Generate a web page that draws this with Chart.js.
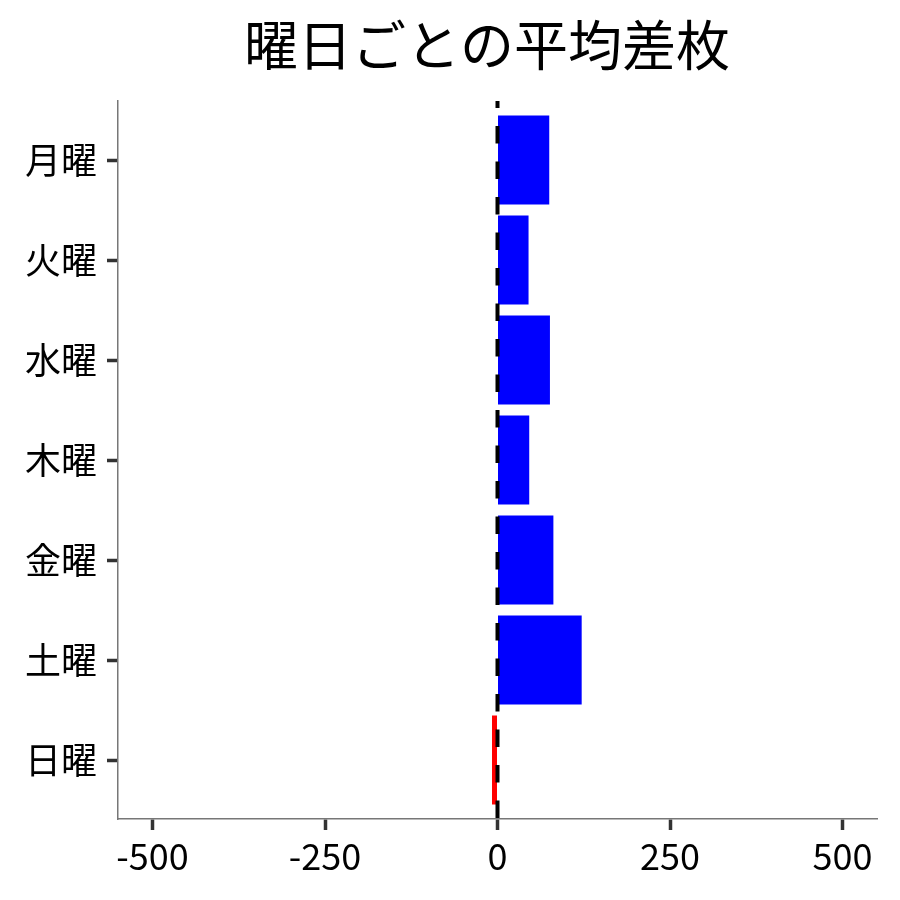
<!DOCTYPE html>
<html>
<head>
<meta charset="utf-8">
<script src="https://cdn.jsdelivr.net/npm/chart.js@4/dist/chart.umd.min.js"></script>
<style>
  html, body { margin: 0; padding: 0; background: #fff; }
  #wrap { width: 900px; height: 900px; }
</style>
</head>
<body>
<div id="wrap"><canvas id="diff-chart" width="900" height="900"></canvas></div>
<script>
var days = ['月曜', '火曜', '水曜', '木曜', '金曜', '土曜', '日曜'];
var avgDiff = [75, 45, 76, 46, 81, 122, -8];
var xTicks = [-500, -250, 0, 250, 500];
var xMin = -550;
var xMax = 550;
var refValue = 0;

var FONT = '"Noto Sans CJK JP", "Noto Sans", sans-serif';

// dashed reference line at x = 0
var zeroLine = {
    id: 'zeroLine',
    afterDatasetsDraw: function (chart) {
        var ctx = chart.ctx;
        var area = chart.chartArea;
        var x = chart.scales.x.getPixelForValue(refValue);
        ctx.save();
        ctx.strokeStyle = '#000';
        ctx.lineWidth = 4;
        ctx.setLineDash([17.5, 18]);
        ctx.lineDashOffset = 10.5;
        ctx.beginPath();
        ctx.moveTo(x, area.top);
        ctx.lineTo(x, area.bottom);
        ctx.stroke();
        ctx.restore();
    }
};

var ctx = document.getElementById('diff-chart').getContext('2d');
var myChart = new Chart(ctx, {
    type: 'bar',
    data: {
        datasets: [
            {
                label: '平均差枚',
                data: avgDiff.map(function (v, i) { return { x: v, y: i }; }),
                backgroundColor: avgDiff.map(function (v) { return v < 0 ? '#ff0000' : '#0000ff'; }),
                borderWidth: 0,
                barPercentage: 0.89,
                categoryPercentage: 1.0
            }
        ]
    },
    options: {
        indexAxis: 'y',
        responsive: false,
        animation: false,
        // left padding + narrow y axis keeps the plot at x=118 and moves the title left;
        // y labels are mirrored with negative padding so they are not clipped
        layout: { padding: { top: 0, right: 23, bottom: 0, left: 97 } },
        plugins: {
            legend: { display: false },
            tooltip: { enabled: false },
            title: {
                display: true,
                text: '曜日ごとの平均差枚',
                color: '#000',
                font: { family: FONT, size: 54, weight: 'normal', lineHeight: 1.2 },
                padding: { top: 13, bottom: 23.2 }
            }
        },
        scales: {
            x: {
                type: 'linear',
                min: xMin,
                max: xMax,
                afterBuildTicks: function (scale) {
                    scale.ticks = xTicks.map(function (v) { return { value: v }; });
                },
                afterFit: function (scale) { scale.height = 81; },
                grid: {
                    drawOnChartArea: false,
                    drawTicks: true,
                    tickLength: 11,
                    tickWidth: 3.5,
                    tickColor: '#333'
                },
                border: { display: true, color: '#777', width: 1.5 },
                ticks: {
                    color: '#000',
                    padding: 5,
                    maxRotation: 0,
                    font: { family: FONT, size: 36 }
                }
            },
            y: {
                type: 'linear',
                reverse: true,
                offset: false,
                min: -0.59,
                max: days.length - 1 + 0.59,
                afterBuildTicks: function (scale) {
                    scale.ticks = days.map(function (d, i) { return { value: i }; });
                },
                afterFit: function (scale) { scale.width = 21; },
                grid: {
                    offset: false,
                    drawOnChartArea: false,
                    drawTicks: true,
                    tickLength: 11,
                    tickWidth: 3.5,
                    tickColor: '#333'
                },
                border: { display: true, color: '#777', width: 1.5 },
                ticks: {
                    color: '#000',
                    mirror: true,
                    crossAlign: 'far',
                    padding: -93,
                    font: { family: FONT, size: 36 },
                    callback: function (value) { return days[value]; }
                }
            }
        }
    },
    plugins: [zeroLine]
});
</script>
</body>
</html>
